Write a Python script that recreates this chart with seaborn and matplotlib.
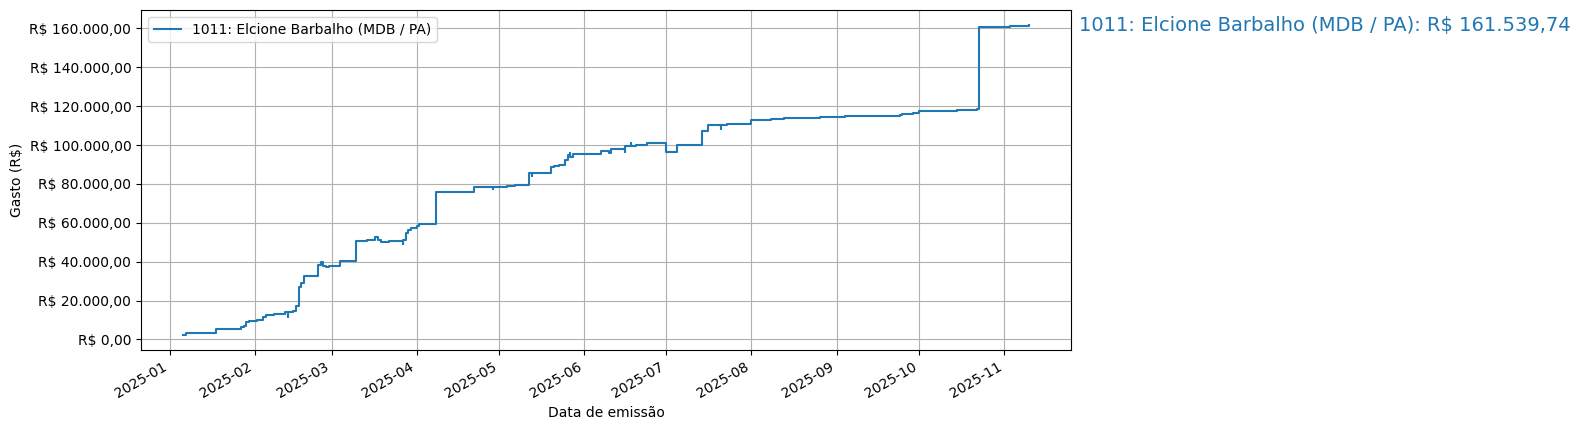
import pandas as pd
import matplotlib
matplotlib.use("Agg")
import matplotlib.pyplot as plt
import matplotlib.dates as mdates
from matplotlib.ticker import FuncFormatter
import seaborn as sns


# --- dados (gasto acumulado por data de emissão) ---
parlamentar = "1011: Elcione Barbalho (MDB / PA)"

datas = [
    "2025-01-06", "2025-01-07", "2025-01-18", "2025-01-27", "2025-01-28",
    "2025-01-29", "2025-01-30", "2025-02-02", "2025-02-04", "2025-02-05",
    "2025-02-08", "2025-02-12", "2025-02-13", "2025-02-13", "2025-02-15",
    "2025-02-16", "2025-02-17", "2025-02-18", "2025-02-19", "2025-02-24",
    "2025-02-25", "2025-02-26", "2025-02-27", "2025-02-28", "2025-03-04",
    "2025-03-08", "2025-03-10", "2025-03-14", "2025-03-17", "2025-03-18",
    "2025-03-19", "2025-03-22", "2025-03-27", "2025-03-27", "2025-03-27",
    "2025-03-28", "2025-03-29", "2025-03-30", "2025-04-01", "2025-04-02",
    "2025-04-08", "2025-04-15", "2025-04-22", "2025-04-29", "2025-04-29",
    "2025-05-04", "2025-05-07", "2025-05-12", "2025-05-13", "2025-05-13",
    "2025-05-20", "2025-05-21", "2025-05-23", "2025-05-25", "2025-05-26",
    "2025-05-27", "2025-05-27", "2025-05-28", "2025-06-07", "2025-06-10",
    "2025-06-11", "2025-06-16", "2025-06-16", "2025-06-18", "2025-06-18",
    "2025-06-20", "2025-06-24", "2025-07-01", "2025-07-01", "2025-07-05",
    "2025-07-14", "2025-07-16", "2025-07-21", "2025-07-21", "2025-07-23",
    "2025-08-01", "2025-08-08", "2025-08-13", "2025-08-26", "2025-09-04",
    "2025-09-24", "2025-09-25", "2025-09-29", "2025-10-01", "2025-10-15",
    "2025-10-22", "2025-10-23", "2025-11-03", "2025-11-10",
]

gasto_acumulado = [
    2500, 3500, 5600, 6200, 7000,
    8800, 9500, 10000, 11700, 12400,
    13000, 13900, 11700, 14200, 14800,
    17000, 26800, 28800, 32400, 38400,
    39600, 37900, 37400, 37900, 40100,
    40500, 50400, 51000, 52500, 51200,
    49900, 50400, 50800, 49200, 51200,
    54600, 56300, 57100, 58500, 59300,
    75700, 76100, 78200, 77300, 78200,
    78700, 79500, 85400, 84300, 85400,
    88500, 89200, 89700, 92300, 94900,
    95700, 94000, 95200, 97100, 95900,
    98100, 96500, 99700, 101200, 99700,
    100200, 100900, 98800, 96200, 99900,
    107000, 110100, 108500, 110100, 110800,
    112700, 113300, 113900, 114300, 114800,
    115300, 116000, 116500, 117300, 117900,
    118400, 160600, 161200, 161539.74,
]

df = pd.DataFrame({
    "data": pd.to_datetime(datas),
    "gasto": gasto_acumulado,
})


def formata_real(valor, pos=None):
    texto = f"{valor:,.2f}"
    texto = texto.replace(",", "X").replace(".", ",").replace("X", ".")
    return f"R$ {texto}"


fig = plt.figure(figsize=(15.81, 4.3), dpi=100)
ax = fig.add_axes([141 / 1581, 80 / 430, 930 / 1581, 340 / 430])

cor = "#1f77b4"
sns.lineplot(data=df, x="data", y="gasto", drawstyle="steps-post",
             estimator=None, sort=False, color=cor, label=parlamentar, ax=ax)

# valor final ao lado do gráfico
ultimo = df["gasto"].iloc[-1]
ax.annotate(f"{parlamentar}: {formata_real(ultimo)}",
            xy=(1.0, ultimo), xycoords=("axes fraction", "data"),
            xytext=(8, 0), textcoords="offset pixels",
            va="center", ha="left", fontsize=14, color=cor,
            annotation_clip=False)

ax.xaxis.set_major_locator(mdates.MonthLocator())
ax.xaxis.set_major_formatter(mdates.DateFormatter("%Y-%m"))
for lbl in ax.get_xticklabels():
    lbl.set_rotation(30)
    lbl.set_ha("right")

ax.yaxis.set_major_formatter(FuncFormatter(formata_real))
ax.set_xlabel("Data de emissão")
ax.set_ylabel("Gasto (R$)")
ax.grid(True)
ax.legend(loc="upper left")

fig.savefig("out.png", dpi=100)
